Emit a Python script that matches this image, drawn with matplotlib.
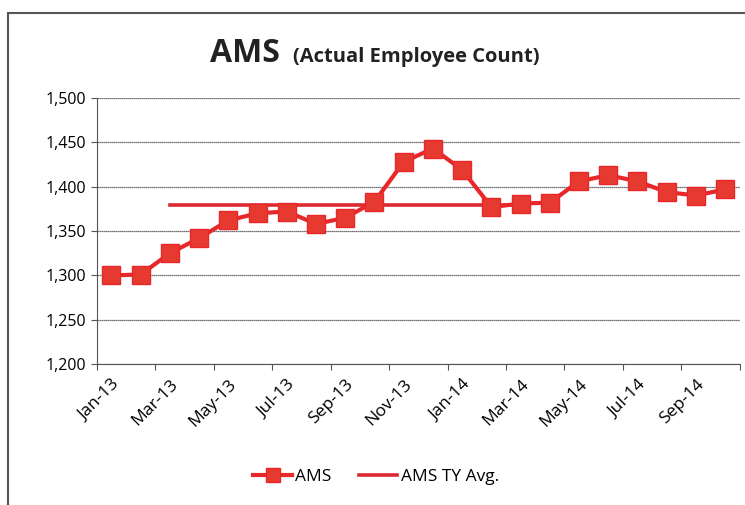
import matplotlib
matplotlib.use("Agg")
import matplotlib.pyplot as plt
from matplotlib.patches import Rectangle

months = ["Jan-13", "Feb-13", "Mar-13", "Apr-13", "May-13", "Jun-13", "Jul-13",
          "Aug-13", "Sep-13", "Oct-13", "Nov-13", "Dec-13", "Jan-14", "Feb-14",
          "Mar-14", "Apr-14", "May-14", "Jun-14", "Jul-14", "Aug-14", "Sep-14",
          "Oct-14"]
ams = [1300, 1301, 1325, 1342, 1362, 1370, 1372, 1358, 1365, 1383, 1428, 1443,
       1419, 1377, 1381, 1382, 1406, 1413, 1406, 1394, 1390, 1397]
# avg line only spans Mar-13 .. Mar-14
avg_months = months[2:15]
avg_values = [1379] * 13

yticks = [1200, 1250, 1300, 1350, 1400, 1450, 1500]

plt.rcParams['font.family'] = ['Open Sans', 'DejaVu Sans']

fig = plt.figure(figsize=(7.45, 5.05), dpi=100)
ax = fig.add_axes([0.130, 0.279, 0.863, 0.527])

x = list(range(len(months)))
avg_x = [months.index(m) for m in avg_months]

red = '#e8272b'
ax.plot(x, ams, color=red, lw=3, marker='s', markersize=13,
        markerfacecolor='#e63a30', markeredgecolor=red, label='AMS', zorder=3)
ax.plot(avg_x, avg_values, color='#dc2a30', lw=2.6, label='AMS TY Avg.', zorder=2)

ax.set_xlim(-0.5, len(months) - 0.5)
ax.set_ylim(1200, 1500)
ax.set_yticks(yticks)
ax.set_yticklabels([f"{v:,}" for v in yticks], fontsize=11.5)
ax.yaxis.grid(True, color='#444444', lw=0.9, ls=(0, (1, 0.6)))
ax.set_axisbelow(True)

# ticks between categories every 2 months, labels on the month itself
ax.set_xticks([i - 0.5 for i in range(0, len(months) + 1, 2)])
ax.set_xticklabels([])
ax.set_xticks(x[::2], minor=True)
ax.set_xticklabels(months[::2], minor=True, rotation=45, ha='right',
                   rotation_mode='anchor', fontsize=12.5)
ax.tick_params(axis='x', which='minor', length=0, pad=9)
ax.tick_params(axis='x', which='major', length=4, color='#555555')
ax.tick_params(axis='y', length=4, color='#555555', pad=4)

for s in ['top', 'right']:
    ax.spines[s].set_visible(False)
ax.spines['left'].set_color('#555555')
ax.spines['bottom'].set_color('#555555')

fig.text(0.282, 0.877, "AMS", fontsize=23, fontweight='bold', color='#222222',
         va='baseline')
fig.text(0.393, 0.877, "(Actual Employee Count)", fontsize=14.5, fontweight='bold',
         color='#222222', va='baseline')

leg = fig.legend(loc='center', bbox_to_anchor=(0.505, 0.055), ncol=2,
                 frameon=False, fontsize=12.5, handlelength=2.2, markerscale=0.75,
                 columnspacing=1.6, handletextpad=0.2)

fig.patches.append(Rectangle((0.011, -0.02), 1.2, 0.995, transform=fig.transFigure,
                             fill=False, edgecolor='#555555', lw=1.5))

fig.savefig("out.png", dpi=100)
